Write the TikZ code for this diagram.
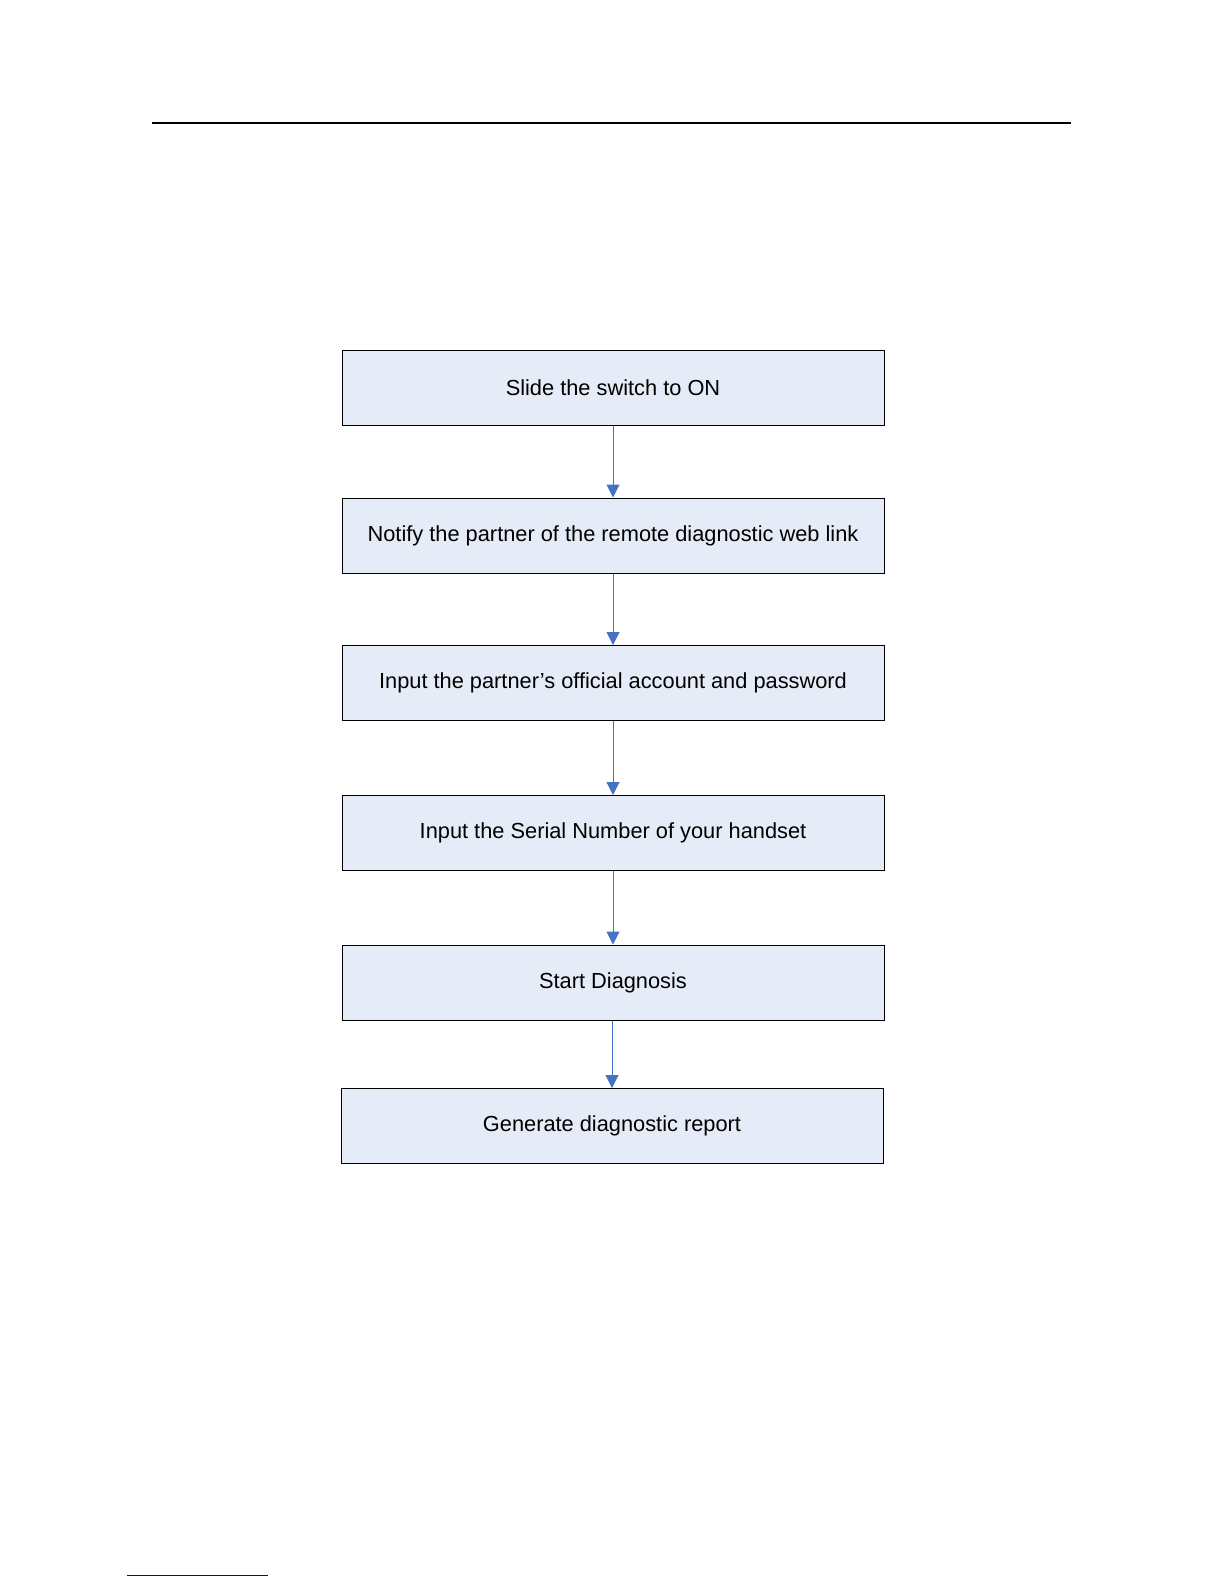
\documentclass[tikz,border=0pt]{standalone}
\usepackage{fontspec}
\setmainfont{Liberation Sans}
\usetikzlibrary{arrows.meta}
\definecolor{boxfill}{HTML}{E6ECF7}
\definecolor{arrowblue}{HTML}{4472C4}
\definecolor{linkblue}{HTML}{0000CC}
\begin{document}
\begin{tikzpicture}[x=1pt,y=-1pt,
  stepbox/.style={draw=black,line width=1pt,fill=boxfill,minimum width=542pt,minimum height=75pt,inner sep=0pt,font=\fontsize{21.8}{26}\selectfont},
  flow/.style={draw=arrowblue,line width=1pt,-{Triangle[width=13pt,length=13pt]}}]
\useasboundingbox (0,0) rectangle (1225,1585);
\draw[line width=2pt] (152,123) -- (1071,123);
\node[stepbox] (s1) at (613,387.5) {Slide the switch to ON};
\node[stepbox] (s2) at (613,535.5) {Notify the partner of the remote diagnostic web link};
\node[stepbox] (s3) at (613,683) {Input the partner’s official account and password};
\node[stepbox] (s4) at (613,833) {Input the Serial Number of your handset};
\node[stepbox] (s5) at (613,982.5) {Start Diagnosis};
\node[stepbox] (s6) at (612,1126) {Generate diagnostic report};
\draw[flow] (s1) -- (s2);
\draw[flow] (s2) -- (s3);
\draw[flow] (s3) -- (s4);
\draw[flow] (s4) -- (s5);
\draw[flow] (s5.south -| s6.north) -- (s6);
\draw[linkblue,line width=1pt] (127,1575) -- (268,1575);
\end{tikzpicture}
\end{document}
